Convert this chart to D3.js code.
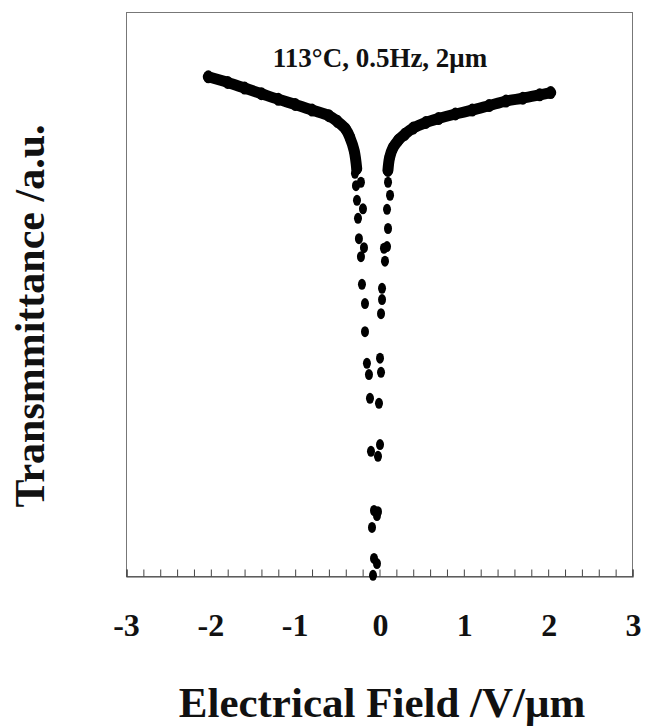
<!DOCTYPE html>
<html>
<head>
<meta charset="utf-8">
<script src="https://cdn.jsdelivr.net/npm/d3@7"></script>
<style>
  html, body { margin: 0; padding: 0; background: #fff; }
  svg { display: block; }
  text { font-family: "Liberation Serif", "Times New Roman", serif; font-weight: bold; fill: #111; }
</style>
</head>
<body>
<svg id="chart" width="645" height="727"></svg>
<script>
// ---- data ----
const title = "113°C, 0.5Hz, 2μm";
const xLabel = "Electrical Field /V/μm";
const yLabel = "Transmmittance /a.u.";
const xTickValues = [-3, -2, -1, 0, 1, 2, 3];

// dense left branch (field V/μm, transmittance a.u.)
const leftBranchX = [-2.03, -1.8, -1.6, -1.4, -1.2, -1.0, -0.8, -0.6, -0.5, -0.4, -0.35, -0.3, -0.27];
const leftBranchY = [88.6, 87.6, 86.6, 85.6, 84.6, 83.7, 82.7, 81.7, 80.7, 79.3, 77.8, 75.5, 72.3];

// dense right branch
const rightBranchX = [0.1, 0.12, 0.16, 0.22, 0.3, 0.4, 0.55, 0.7, 0.9, 1.1, 1.3, 1.5, 1.7, 1.9, 2.03];
const rightBranchY = [72.0, 74.3, 76.0, 77.3, 78.4, 79.5, 80.5, 81.2, 82.0, 82.7, 83.5, 84.3, 84.8, 85.4, 85.8];

// sparse points in the dip
const dipX = [-0.291, -0.220, -0.279, -0.267, -0.196, -0.255, -0.244, -0.184, -0.220, -0.208, -0.172, -0.172,
              -0.149, -0.125, -0.113, -0.101, -0.089, -0.065, -0.077, -0.065,
              0.101, 0.125, 0.089, 0.101, 0.089, 0.053, 0.065, 0.030, 0.030, 0.018,
              0.006, 0.018, -0.006, 0.006, -0.018, -0.018, -0.030, -0.030];
const dipY = [71.5, 69.9, 69.3, 66.7, 65.2, 63.5, 59.9, 58.3, 56.7, 51.8, 48.4, 43.4,
              37.8, 35.8, 31.6, 22.2, 8.7, 11.7, 0.2, 3.2,
              69.9, 67.6, 65.1, 61.7, 58.5, 58.2, 55.9, 51.1, 49.1, 46.6,
              38.7, 36.2, 30.7, 23.4, 21.3, 11.5, 10.8, 2.3];

// ---- layout ----
const margin = { left: 126.5, right: 632.5, top: 12.5, bottom: 576.5 };
const svg = d3.select("#chart");

const x = d3.scaleLinear().domain([-3, 3]).range([margin.left, margin.right]);
const y = d3.scaleLinear().domain([0, 100]).range([margin.bottom, margin.top]);

// frame
svg.append("rect")
  .attr("x", margin.left).attr("y", margin.top)
  .attr("width", margin.right - margin.left).attr("height", margin.bottom - margin.top)
  .attr("fill", "none").attr("stroke", "#777").attr("stroke-width", 1);

// bottom axis with inward minor ticks every 0.2
const minorTicks = d3.range(-3, 3.001, 0.2).map(v => +v.toFixed(1));
const xAxis = d3.axisTop(x).tickValues(minorTicks).tickSize(7).tickFormat("");
const gx = svg.append("g").attr("transform", `translate(0,${margin.bottom})`).call(xAxis);
gx.select(".domain").attr("stroke", "#444").attr("stroke-width", 1.2);
gx.selectAll(".tick line").attr("stroke", "#444").attr("stroke-width", 1);

// tick labels
svg.append("g").selectAll("text").data(xTickValues).join("text")
  .attr("x", d => x(d) + (d < 0 ? 0 : 1))
  .attr("y", 636)
  .attr("text-anchor", "middle")
  .attr("font-size", 32)
  .text(d => d);

// branches as thick traces of dense points
const line = d3.line().x(d => x(d[0])).y(d => y(d[1])).curve(d3.curveCatmullRom);
const left = leftBranchX.map((v, i) => [v, leftBranchY[i]]);
const right = rightBranchX.map((v, i) => [v, rightBranchY[i]]);
[left, right].forEach(pts => {
  svg.append("path").datum(pts).attr("d", line)
    .attr("fill", "none").attr("stroke", "#000").attr("stroke-width", 11)
    .attr("stroke-linecap", "round").attr("stroke-linejoin", "round");
  svg.append("g").selectAll("ellipse").data(pts).join("ellipse")
    .attr("cx", d => x(d[0])).attr("cy", d => y(d[1]))
    .attr("rx", 5).attr("ry", 6.5).attr("fill", "#000");
});

// dip points
const dip = dipX.map((v, i) => [v, dipY[i]]);
svg.append("g").selectAll("ellipse").data(dip).join("ellipse")
  .attr("cx", d => x(d[0])).attr("cy", d => y(d[1]))
  .attr("rx", 4).attr("ry", 5.5).attr("fill", "#000");

// title
svg.append("text").attr("x", 380).attr("y", 67)
  .attr("text-anchor", "middle").attr("font-size", 27).text(title);

// axis labels
svg.append("text").attr("x", 382).attr("y", 717)
  .attr("text-anchor", "middle").attr("font-size", 43).text(xLabel);

svg.append("text")
  .attr("transform", "translate(44,316) rotate(-90)")
  .attr("text-anchor", "middle").attr("font-size", 42).text(yLabel);
</script>
</body>
</html>
